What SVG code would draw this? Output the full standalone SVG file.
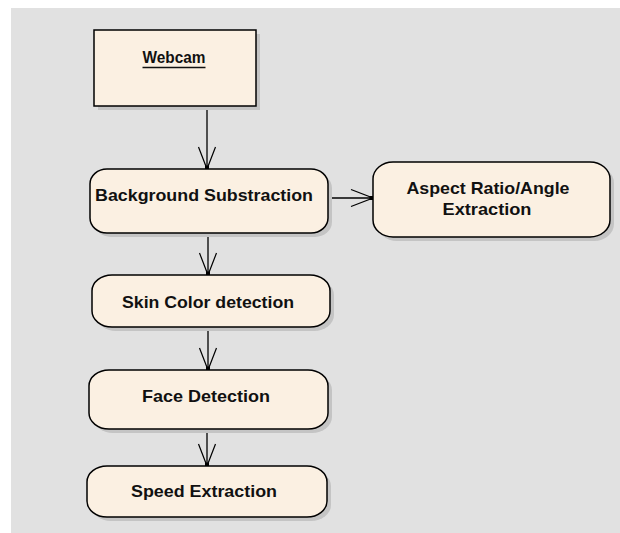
<svg xmlns="http://www.w3.org/2000/svg" width="620" height="533" viewBox="0 0 620 533">
<defs>
<marker id="arr" markerUnits="userSpaceOnUse" markerWidth="30" markerHeight="24" viewBox="-26 -12 30 24" refX="0" refY="0" orient="auto">
<path d="M-22,-8.5 L0,0 L-22,8.5" fill="none" stroke="#000" stroke-width="1.2"/>
<rect x="-3.5" y="-2" width="4" height="4" fill="#000"/>
</marker>
</defs>
<style>
.shadow{fill:#c4c4c4;}
.box{fill:#fbf0e2;stroke:#000;stroke-width:1.5;}
.t{font-family:"Liberation Sans",Arial,sans-serif;font-weight:bold;font-size:17px;fill:#111;text-anchor:middle;}
.c{fill:none;stroke:#000;stroke-width:1.3;}
</style>
<rect x="0" y="0" width="620" height="533" fill="#ffffff"/>
<rect x="11" y="8" width="609" height="525" fill="#e1e1e1"/>
<g id="connectors">
<line class="c" x1="207" y1="106" x2="207" y2="169" marker-end="url(#arr)"/>
<line class="c" x1="208" y1="233" x2="208" y2="275" marker-end="url(#arr)"/>
<line class="c" x1="328" y1="198" x2="373" y2="198" marker-end="url(#arr)"/>
<line class="c" x1="208" y1="327" x2="208" y2="370" marker-end="url(#arr)"/>
<line class="c" x1="207" y1="429" x2="207" y2="466" marker-end="url(#arr)"/>
</g>
<g id="webcam">
<rect class="shadow" x="98" y="34" width="162" height="76"/>
<rect class="box" x="94" y="30" width="162" height="76"/>
<text class="t" x="174" y="63" textLength="63" lengthAdjust="spacingAndGlyphs">Webcam</text>
<line x1="142.5" y1="67.5" x2="205.5" y2="67.5" stroke="#111" stroke-width="1.5"/>
</g>
<g id="background">
<rect class="shadow" x="94" y="173" width="238" height="64" rx="17" ry="15"/>
<rect class="box" x="90" y="169" width="238" height="64" rx="17" ry="15"/>
<text class="t" x="204" y="201" textLength="218" lengthAdjust="spacingAndGlyphs">Background Substraction</text>
</g>
<g id="aspect">
<rect class="shadow" x="377" y="166" width="237" height="75" rx="20" ry="17"/>
<rect class="box" x="373" y="162" width="237" height="75" rx="20" ry="17"/>
<text class="t" x="488" y="194" textLength="163" lengthAdjust="spacingAndGlyphs">Aspect Ratio/Angle</text>
<text class="t" x="487" y="215" textLength="89" lengthAdjust="spacingAndGlyphs">Extraction</text>
</g>
<g id="skin">
<rect class="shadow" x="96" y="279" width="238" height="52" rx="20" ry="16"/>
<rect class="box" x="92" y="275" width="238" height="52" rx="20" ry="16"/>
<text class="t" x="208" y="308" textLength="172" lengthAdjust="spacingAndGlyphs">Skin Color detection</text>
</g>
<g id="face">
<rect class="shadow" x="93" y="374" width="239" height="59" rx="20" ry="16"/>
<rect class="box" x="89" y="370" width="239" height="59" rx="20" ry="16"/>
<text class="t" x="206" y="402" textLength="128" lengthAdjust="spacingAndGlyphs">Face Detection</text>
</g>
<g id="speed">
<rect class="shadow" x="91" y="470" width="240" height="51" rx="20" ry="16"/>
<rect class="box" x="87" y="466" width="240" height="51" rx="20" ry="16"/>
<text class="t" x="204" y="497" textLength="146" lengthAdjust="spacingAndGlyphs">Speed Extraction</text>
</g>
</svg>
